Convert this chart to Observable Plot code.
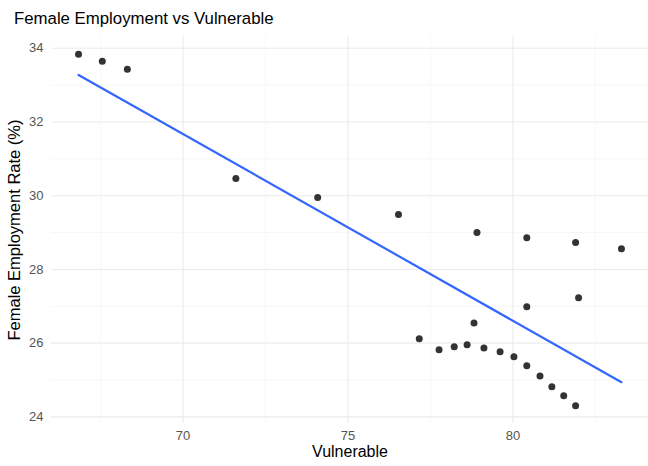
<!DOCTYPE html>
<html>
<head>
<meta charset="utf-8">
<script src="https://cdn.jsdelivr.net/npm/d3@7"></script>
<script src="https://cdn.jsdelivr.net/npm/@observablehq/plot@0.6"></script>
<style>
  html, body { margin: 0; padding: 0; background: #fff; }
  body { width: 648px; height: 466px; overflow: hidden; font-family: "Liberation Sans", Arial, sans-serif; }
  #title { height: 32px; box-sizing: border-box; padding: 9px 0 0 14px; font-size: 16.8px; line-height: 20px; color: #000; }
</style>
</head>
<body>
<div id="title">Female Employment vs Vulnerable</div>
<div id="chart"></div>
<script>
const vulnerable = [66.83, 67.55, 68.31, 71.60, 74.08, 76.53, 78.91, 80.42, 81.90, 83.29,
  81.99, 80.42, 78.82, 77.16, 77.76, 78.22, 78.61, 79.12, 79.61, 80.03, 80.42, 80.82, 81.18, 81.54, 81.90];
const femaleEmployment = [33.84, 33.65, 33.43, 30.47, 29.95, 29.49, 29.00, 28.86, 28.73, 28.56,
  27.23, 26.99, 26.55, 26.12, 25.82, 25.90, 25.96, 25.87, 25.77, 25.63, 25.39, 25.11, 24.82, 24.57, 24.30];
const xTicks = [70, 75, 80];
const xMinor = [67.5, 72.5, 77.5, 82.5];
const yTicks = [24, 26, 28, 30, 32, 34];
const yMinor = [25, 27, 29, 31, 33];

const data = vulnerable.map((v, i) => ({x: v, y: femaleEmployment[i]}));

const chart = Plot.plot({
  width: 648,
  height: 434,
  marginTop: 4,
  marginBottom: 43,
  marginLeft: 51,
  marginRight: 0,
  style: {fontFamily: '"Liberation Sans", Arial, sans-serif', background: "#fff"},
  x: {domain: [66.01, 84.11], ticks: xTicks, tickSize: 0, tickPadding: 7, label: null},
  y: {domain: [23.82, 34.32], ticks: yTicks, tickSize: 0, tickPadding: 8, label: null},
  marks: [
    Plot.ruleY(yMinor, {stroke: "#f2f2f2", strokeWidth: 0.6}),
    Plot.ruleX(xMinor, {stroke: "#f2f2f2", strokeWidth: 0.6}),
    Plot.ruleY(yTicks, {stroke: "#ebebeb", strokeWidth: 1.1}),
    Plot.ruleX(xTicks, {stroke: "#ebebeb", strokeWidth: 1.1}),
    Plot.axisX({ticks: xTicks, tickSize: 0, tickPadding: 7, fontSize: 13, color: "#555555", label: null}),
    Plot.axisY({ticks: yTicks, tickSize: 0, tickPadding: 8, fontSize: 13, color: "#555555", label: null}),
    Plot.dot(data, {x: "x", y: "y", r: 3.5, fill: "#333333", stroke: "none"}),
    Plot.linearRegressionY(data, {x: "x", y: "y", ci: 0, stroke: "#3366FF", strokeWidth: 2.2}),
    Plot.text(["Female Employment Rate (%)"], {frameAnchor: "left", textAnchor: "middle", rotate: -90, dx: -37, fontSize: 16.5, fill: "#000"}),
    Plot.text(["Vulnerable"], {frameAnchor: "bottom", dy: 33.5, fontSize: 16, fill: "#000"})
  ]
});
document.getElementById("chart").appendChild(chart);
</script>
</body>
</html>
